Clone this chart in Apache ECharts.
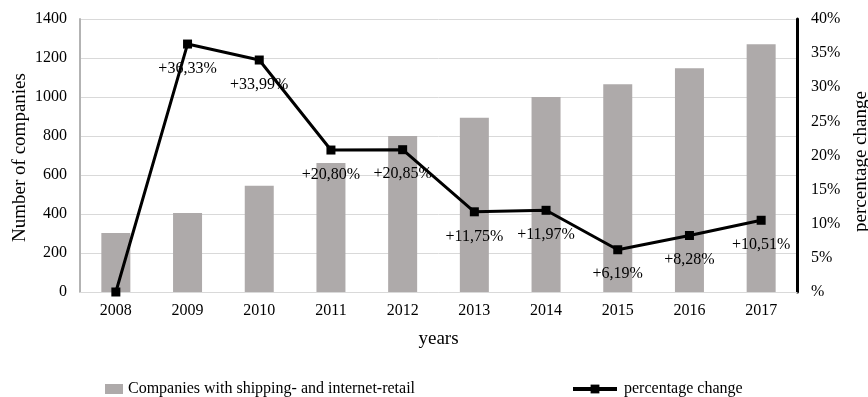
<!DOCTYPE html>
<html>
<head>
<meta charset="utf-8">
<script src="https://cdn.jsdelivr.net/npm/echarts@6/dist/echarts.min.js"></script>
<style>
  html, body { margin: 0; padding: 0; background: #fff; }
  #chart { width: 868px; height: 397px; }
</style>
</head>
<body>
<div id="chart"></div>
<script>
// Yearly figures
const years = ['2008', '2009', '2010', '2011', '2012', '2013', '2014', '2015', '2016', '2017'];
const companies = [302, 405, 545, 662, 800, 894, 1000, 1065, 1148, 1271];
const pctChange = [0, 36.33, 33.99, 20.80, 20.85, 11.75, 11.97, 6.19, 8.28, 10.51];

const FONT = 'Liberation Serif';
const TICK = 16;
const TITLE = 19;
const chart = echarts.init(document.getElementById('chart'), null, { renderer: 'canvas' });

chart.setOption({
  animation: false,
  textStyle: { fontFamily: FONT, color: '#000' },
  grid: { left: 80, right: 71, top: 19, bottom: 105, containLabel: false, outerBoundsMode: 'none' },
  legend: [
    {
      left: 100, top: 376,
      itemWidth: 18, itemHeight: 10,
      data: [{ name: 'Companies with shipping- and internet-retail', icon: 'rect' }],
      textStyle: { fontFamily: FONT, fontSize: 16, color: '#000' }
    },
    {
      left: 566, top: 376,
      itemWidth: 44, itemHeight: 11,
      lineStyle: { width: 4 },
      data: ['percentage change'],
      textStyle: { fontFamily: FONT, fontSize: 16, color: '#000', padding: [0, 0, 0, 2] }
    }
  ],
  xAxis: {
    type: 'category',
    data: years,
    name: 'years',
    nameLocation: 'middle',
    nameGap: 38,
    nameTextStyle: { fontFamily: FONT, fontSize: TITLE, color: '#000' },
    axisLine: { lineStyle: { color: '#d9d9d9', width: 1 } },
    axisTick: { show: false },
    axisLabel: { fontFamily: FONT, fontSize: TICK, color: '#000', margin: 11 }
  },
  yAxis: [
    {
      type: 'value',
      min: 0, max: 1400, interval: 200,
      name: 'Number of companies',
      nameLocation: 'middle',
      nameRotate: 90,
      nameGap: 50,
      nameMoveOverlap: false,
      nameTextStyle: { fontFamily: FONT, fontSize: TITLE, color: '#000', padding: [0, 4, 0, 0] },
      axisLine: { show: true, lineStyle: { color: '#b3b3b3', width: 2 } },
      axisTick: { show: false },
      axisLabel: {
        fontFamily: FONT, fontSize: TICK, color: '#000', margin: 13,
        formatter: v => String(v)
      },
      splitLine: { lineStyle: { color: '#d9d9d9', width: 1 } }
    },
    {
      type: 'value',
      min: 0, max: 40, interval: 5,
      name: 'percentage change',
      nameLocation: 'middle',
      nameRotate: 90,
      nameGap: 55,
      nameTextStyle: { fontFamily: FONT, fontSize: TITLE, color: '#000', padding: [0, 12, 0, 0] },
      position: 'right',
      axisLine: { show: true, lineStyle: { color: '#000', width: 3 } },
      axisTick: { show: false },
      axisLabel: {
        fontFamily: FONT, fontSize: TICK, color: '#000', margin: 14,
        formatter: v => (v === 0 ? '%' : v + '%')
      },
      splitLine: { show: false }
    }
  ],
  series: [
    {
      name: 'Companies with shipping- and internet-retail',
      type: 'bar',
      data: companies,
      barWidth: 29,
      itemStyle: { color: '#aeaaaa' }
    },
    {
      name: 'percentage change',
      type: 'line',
      yAxisIndex: 1,
      data: pctChange,
      symbol: 'rect',
      symbolSize: 9,
      lineStyle: { color: '#000', width: 3 },
      itemStyle: { color: '#000' },
      label: {
        show: true,
        position: 'bottom',
        distance: 12,
        fontFamily: FONT,
        fontSize: 16,
        color: '#000',
        formatter: p => (p.value === 0 ? '' : '+' + p.value.toFixed(2).replace('.', ',') + '%')
      }
    }
  ]
});
</script>
</body>
</html>
